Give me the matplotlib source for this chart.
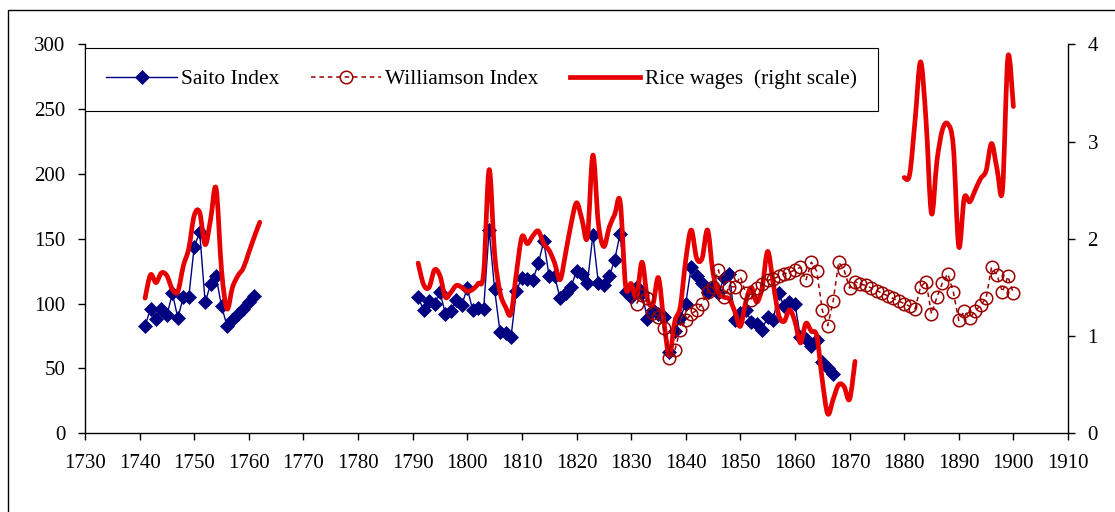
import matplotlib
matplotlib.use("Agg")
import matplotlib.pyplot as plt
from matplotlib.patches import Rectangle, PathPatch
from matplotlib.path import Path
from matplotlib.lines import Line2D
import numpy as np

plt.rcParams['font.family'] = ['Liberation Serif', 'DejaVu Serif']

# Saito Index (left scale), two stretches of years
saito_years_a = list(range(1741, 1762))
saito_a = [83, 96, 88, 96, 91, 108, 89, 105, 105, 144, 155, 101, 115, 121, 98, 83, 87, 92, 96, 101, 106]
saito_years_b = list(range(1791, 1868))
saito_b = [105, 95, 102, 100, 109, 92, 94, 103, 99, 112,
           95, 97, 96, 157, 111, 78, 77, 74, 110, 120,
           119, 118, 131, 148, 121, 121, 104, 108, 113, 125,
           123, 116, 153, 116, 114, 121, 134, 154, 109, 105,
           113, 108, 88, 95, 92, 90, 63, 79, 89, 100,
           128, 121, 116, 109, 113, 108, 120, 123, 87, 93,
           95, 86, 84, 80, 90, 87, 108, 98, 101, 100,
           74, 73, 67, 72, 55, 50, 46]

# Williamson Index (left scale)
will_years = list(range(1831, 1901))
williamson = [100, 107, 104, 93, 90, 81, 58, 64, 80, 87,
              92, 95, 100, 109, 113, 126, 105, 113, 113, 121,
              108, 103, 112, 115, 118, 119, 121, 123, 124, 126,
              128, 118, 132, 125, 95, 83, 102, 132, 126, 112,
              117, 115, 114, 112, 110, 108, 106, 104, 102, 100,
              98, 96, 113, 117, 92, 105, 116, 123, 109, 87,
              94, 89, 94, 99, 104, 128, 122, 109, 121, 108]

# Rice wages (right scale), three stretches
rice_years_a = list(range(1741, 1763))
rice_a = [1.39, 1.63, 1.55, 1.65, 1.62, 1.48, 1.46, 1.72, 1.90, 2.24, 2.27,
          1.94, 2.20, 2.52, 1.68, 1.28, 1.50, 1.62, 1.70, 1.86, 2.02, 2.17]
rice_years_b = list(range(1791, 1872))
rice_b = [1.75, 1.53, 1.50, 1.68, 1.62, 1.40, 1.45, 1.52, 1.50, 1.46,
          1.48, 1.54, 1.65, 2.71, 1.85, 1.45, 1.30, 1.23, 1.65, 2.02,
          1.95, 2.03, 2.08, 1.95, 1.88, 1.75, 1.58, 1.85, 2.15, 2.37,
          2.20, 2.02, 2.86, 2.16, 1.92, 2.12, 2.25, 2.38, 1.51, 1.54,
          1.40, 1.76, 1.38, 1.33, 1.60, 1.15, 0.80, 1.15, 1.30, 1.78,
          2.09, 1.80, 1.80, 2.09, 1.65, 1.45, 1.40, 1.38, 1.25, 1.10,
          1.35, 1.50, 1.35, 1.50, 1.87, 1.55, 1.22, 1.15, 1.27, 1.15,
          0.93, 1.13, 1.05, 1.00, 0.55, 0.20, 0.35, 0.50, 0.48, 0.35, 0.74]
rice_years_c = list(range(1880, 1901))
rice_c = [2.63, 2.66, 3.22, 3.82, 3.22, 2.26, 2.80, 3.12, 3.18, 2.95, 1.92,
          2.42, 2.38, 2.50, 2.62, 2.70, 2.98, 2.72, 2.50, 3.87, 3.36]

navy = '#000080'
dred = '#990000'
red = '#e60000'


def smooth_line(axis, xs, ys, **kw):
    # excel style smoothed line: bezier through the points
    pts = np.column_stack([xs, ys]).astype(float)
    n = len(pts)
    verts = [pts[0]]
    codes = [Path.MOVETO]
    for i in range(n - 1):
        p0 = pts[max(i - 1, 0)]
        p1 = pts[i]
        p2 = pts[i + 1]
        p3 = pts[min(i + 2, n - 1)]
        verts += [p1 + (p2 - p0) / 6, p2 - (p3 - p1) / 6, p2]
        codes += [Path.CURVE4] * 3
    patch = PathPatch(Path(verts, codes), fill=False, **kw)
    axis.add_patch(patch)
    return patch


fig = plt.figure(figsize=(11.15, 5.12), dpi=100)
ax = fig.add_axes([85 / 1115, 78.7 / 512, 983 / 1115, 389 / 512])
ax2 = ax.twinx()
ax3 = ax.twinx()

# Saito
l1, = ax.plot(saito_years_a, saito_a, color=navy, lw=1.0, marker='D', ms=7.3,
              mfc=navy, mec=navy, mew=0.5)
ax.plot(saito_years_b, saito_b, color=navy, lw=1.0, marker='D', ms=7.3,
        mfc=navy, mec=navy, mew=0.5)

# rice wages
for xs, ys in [(rice_years_a, rice_a), (rice_years_b, rice_b), (rice_years_c, rice_c)]:
    smooth_line(ax2, xs, ys, edgecolor=red, lw=3.4, joinstyle='round', capstyle='round')
l3 = Line2D([], [], color=red, lw=3.4)

# Williamson on top
l2, = ax3.plot(will_years, williamson, color=dred, lw=1.1, ls=(0, (3, 2.5)),
               marker='o', ms=9, mfc='none', mec=dred, mew=1.1)

ax.set_xlim(1730, 1910)
ax.set_ylim(0, 300)
ax3.set_ylim(0, 300)
ax2.set_ylim(0, 4)
ax.set_xticks(np.arange(1730, 1911, 10))
ax.set_yticks(np.arange(0, 301, 50))
ax2.set_yticks([0, 1, 2, 3, 4])

for a in (ax, ax2, ax3):
    a.spines['top'].set_visible(False)
ax.spines['right'].set_visible(False)
ax2.spines['left'].set_visible(False)
ax2.spines['bottom'].set_visible(False)
ax3.axis('off')
ax.spines['left'].set_linewidth(1.0)
ax.spines['bottom'].set_linewidth(1.0)
ax2.spines['right'].set_linewidth(1.0)

ax.tick_params(axis='x', direction='out', length=5, width=1, labelsize=15, pad=10)
ax.tick_params(axis='y', direction='out', length=5, width=1, labelsize=15, pad=9)
ax2.tick_params(axis='y', direction='out', length=5, width=1, labelsize=15, pad=9)

leg = ax3.legend([l1, l2, l3], ['Saito Index', 'Williamson Index', 'Rice wages  (right scale)'],
                 loc='upper left', bbox_to_anchor=(0.0, 0.991), ncol=3, frameon=True,
                 fancybox=False, edgecolor='black', framealpha=1, fontsize=15.4,
                 handlelength=3.3, handletextpad=0.2, columnspacing=1.45,
                 borderpad=1.0, borderaxespad=0)
leg.get_frame().set_linewidth(0.8)

# outer chart frame
fig.add_artist(Rectangle((8 / 1115, -0.05), 1.1, 1.0305, transform=fig.transFigure,
                         fill=False, lw=1.0, ec='black'))

fig.savefig('out.png', dpi=100)
